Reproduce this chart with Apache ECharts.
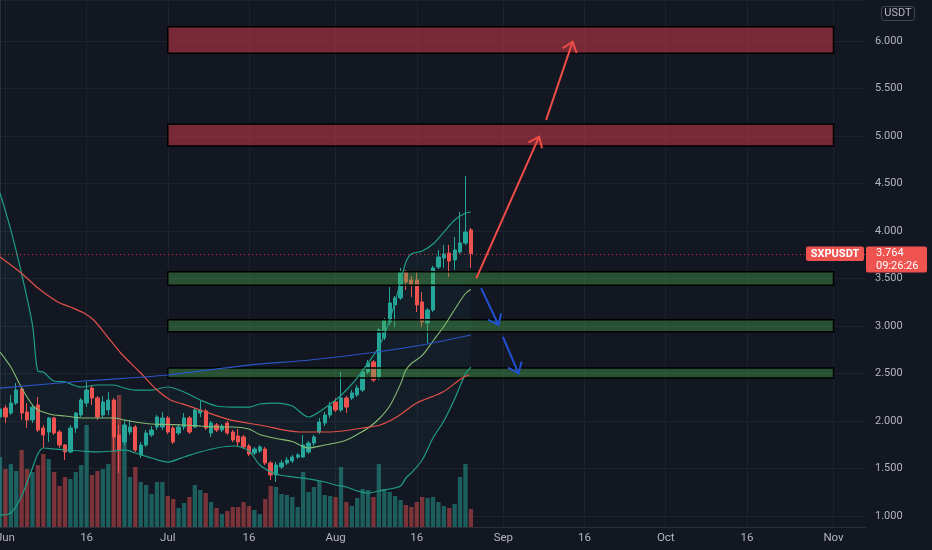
<!DOCTYPE html>
<html><head><meta charset="utf-8">
<script src="https://cdn.jsdelivr.net/npm/echarts@6/dist/echarts.min.js"></script>
<style>html,body{margin:0;padding:0;background:#131722;}#c{width:932px;height:550px;}</style>
</head><body><div id="c"></div>
<script>
// ---------- data ----------
const startDate = [2021, 4, 31];      // 2021-05-31
const dayCount = 161;                 // through 2021-11-07
const monthNames = ['Jan','Feb','Mar','Apr','May','Jun','Jul','Aug','Sep','Oct','Nov','Dec'];
const symbolName = 'SXPUSDT';
const quoteCurrency = 'USDT';
const lastPrice = 3.764;
const countdown = '09:26:26';

// [open, close, low, high]
const candles = [
[2.042,2.126,2.011,2.168],[2.137,2.042,1.979,2.168],[2.084,2.189,2.063,2.274],[2.189,2.326,2.168,2.400],
[2.337,2.084,2.011,2.347],[2.095,2.011,1.926,2.189],[2.011,2.147,1.979,2.168],[2.168,1.905,1.884,2.253],
[1.926,1.853,1.716,1.958],[1.884,2.032,1.779,2.042],[2.032,1.874,1.853,2.042],[1.884,1.747,1.716,1.905],
[1.747,1.674,1.589,1.758],[1.674,1.926,1.663,1.958],[1.926,2.084,1.874,2.095],[2.063,2.221,2.042,2.242],
[2.189,2.326,2.147,2.411],[2.347,2.242,2.168,2.379],[2.242,2.042,2.011,2.263],[2.063,2.200,2.032,2.263],
[2.116,2.221,2.063,2.305],[2.221,1.832,1.674,2.242],[1.853,1.695,1.453,1.958],[1.779,1.958,1.747,2.011],
[1.884,1.937,1.853,2.011],[1.937,1.695,1.674,1.958],[1.642,1.747,1.611,1.779],[1.747,1.874,1.726,1.905],
[1.853,1.905,1.832,1.947],[1.937,2.042,1.905,2.063],[1.937,2.032,1.905,2.095],[2.032,1.884,1.863,2.053],
[1.926,1.779,1.758,1.947],[1.874,1.937,1.853,1.968],[1.937,2.032,1.905,2.084],[2.032,1.884,1.863,2.053],
[1.937,2.116,1.926,2.137],[2.084,2.116,2.042,2.211],[2.105,1.926,1.905,2.126],[1.874,1.979,1.832,2.000],
[1.958,1.905,1.884,1.979],[1.905,1.947,1.884,1.968],[1.979,1.874,1.853,2.000],[1.884,1.800,1.779,1.905],
[1.842,1.779,1.737,1.916],[1.832,1.726,1.705,1.853],[1.737,1.653,1.632,1.758],[1.663,1.705,1.642,1.726],
[1.684,1.726,1.663,1.747],[1.705,1.558,1.537,1.726],[1.558,1.432,1.379,1.579],[1.432,1.537,1.358,1.568],
[1.516,1.558,1.495,1.589],[1.558,1.589,1.537,1.621],[1.579,1.621,1.558,1.642],[1.621,1.642,1.600,1.663],
[1.621,1.747,1.611,1.853],[1.674,1.768,1.653,1.789],[1.768,1.832,1.737,1.853],[1.884,1.989,1.863,2.032],
[1.979,2.063,1.947,2.095],[2.063,2.158,2.032,2.200],[2.200,2.116,2.095,2.242],[2.116,2.242,2.095,2.516],
[2.242,2.147,2.084,2.263],[2.242,2.295,2.221,2.326],[2.274,2.347,2.253,2.379],[2.326,2.516,2.305,2.558],
[2.516,2.611,2.495,2.642],[2.621,2.432,2.411,2.642],[2.453,2.958,2.432,2.979],[2.874,3.063,2.853,3.084],
[3.042,3.242,3.011,3.411],[3.221,3.295,2.989,3.316],[3.295,3.568,3.274,3.611],[3.568,3.463,3.379,3.589],
[3.484,3.432,3.305,3.526],[3.484,3.221,3.147,3.568],[3.253,3.042,2.989,3.358],[3.032,3.168,2.821,3.189],
[3.168,3.611,3.147,3.632],[3.621,3.726,3.600,3.800],[3.716,3.758,3.611,3.853],[3.768,3.684,3.516,3.853],
[3.695,3.800,3.589,3.937],[3.779,3.874,3.758,4.200],[3.874,3.989,3.853,4.579],[4.011,3.764,3.611,4.032]
];

const volumes = [70,58,63,56,77,58,55,62,73,68,55,41,50,48,55,62,102,52,56,58,
63,127,132,87,50,60,45,42,33,45,45,31,28,19,24,30,42,37,34,25,
19,13,16,20,20,25,21,17,13,28,41,40,33,32,30,20,55,35,40,46,
32,31,30,60,25,21,29,38,37,30,63,38,35,31,27,22,20,25,30,29,
30,25,21,19,23,50,63,18];

const bbDays  = [0,2,4,6,7,8,10,12,15,18,21,23,25,28,31,34,37,40,43,46,48,51,54,57,60,62,64,66,68,70,72,74,75,76,78,80,82,84,86,87];
const bbUpper = [4.400,4.011,3.547,3.011,2.526,2.516,2.421,2.411,2.358,2.379,2.379,2.347,2.326,2.326,2.358,2.305,2.221,2.158,2.147,2.147,
                 2.179,2.189,2.158,2.042,2.137,2.221,2.326,2.453,2.611,2.779,3.063,3.463,3.674,3.758,3.789,3.863,3.989,4.116,4.189,4.200];
const bbLower = [1.011,1.032,1.211,1.505,1.653,1.716,1.705,1.695,1.684,1.674,1.684,1.695,1.663,1.611,1.568,1.621,1.674,1.716,1.737,1.684,
                 1.537,1.442,1.411,1.390,1.358,1.326,1.305,1.263,1.242,1.263,1.284,1.316,1.400,1.453,1.589,1.821,2.000,2.232,2.495,2.568];
const bbBasis = [2.726,2.568,2.347,2.168,2.116,2.095,2.063,2.053,2.032,2.032,2.032,2.011,1.989,1.968,1.963,1.958,1.947,1.937,1.937,1.916,
                 1.858,1.816,1.784,1.716,1.747,1.768,1.800,1.858,1.926,2.021,2.158,2.389,2.537,2.605,2.690,2.842,2.995,3.174,3.342,3.384];

const maRedDays = [0,3.9,7,10.7,13,15.5,17.3,19.9,22.3,26,29,31.5,33.7,37,42.5,48,55.4,61,67,70.2,73.3,77,81.8,85.4,86.7];
const maRed     = [3.726,3.558,3.400,3.253,3.200,3.137,3.063,2.884,2.716,2.505,2.326,2.221,2.180,2.116,2.011,1.958,1.884,1.884,1.926,1.958,2.042,2.189,2.305,2.453,2.484];

const maBlueDays = [0,15.5,31,46,57.3,69.6,78,87];
const maBlue     = [2.347,2.421,2.484,2.589,2.642,2.726,2.800,2.905];

// zones: [fromDay, toDay, lowPrice, highPrice, kind]
const zones = [
  [31,154,5.870,6.150,'red'],
  [31,154,4.895,5.125,'red'],
  [31,154,3.430,3.570,'green'],
  [31,154,2.940,3.065,'green'],
  [31,154,2.453,2.558,'green']
];
// arrows: [fromDay, fromPrice, toDay, toPrice]
const arrowsRed  = [[88.0,3.502,99.6,4.993],[100.9,5.168,105.8,5.993]];
const arrowsBlue = [[88.9,3.397,92.1,3.011],[92.9,2.887,95.8,2.502]];

// ---------- build ----------
const categories = [];
for (let i = 0; i < dayCount; i++) {
  const d = new Date(Date.UTC(startDate[0], startDate[1], startDate[2] + i));
  categories.push(d.toISOString().slice(0,10));
}
const UP = '#26a69a', DOWN = '#ef5350';
const volData = volumes.map((v,i) => ({
  value: v,
  itemStyle: {color: candles[i][1] >= candles[i][0] ? 'rgba(38,166,154,0.5)' : 'rgba(239,83,80,0.47)'}
}));
const pairs = (xs, ys) => xs.map((x,i) => [x, ys[i]]);
const showTick = (idx, val) => { const d = +val.slice(8); return d === 1 || d === 16; };
const FONT = 'Roboto, "Noto Sans", sans-serif';

function arrowRenderer(color) {
  return function (params, api) {
    const p0 = api.coord([api.value(0), api.value(1)]);
    const p1 = api.coord([api.value(2), api.value(3)]);
    let dx = p0[0]-p1[0], dy = p0[1]-p1[1];
    const L = Math.hypot(dx, dy); dx /= L; dy /= L;
    const a = 38*Math.PI/180, len = 12;
    const rot = t => [p1[0] + len*(dx*Math.cos(t) - dy*Math.sin(t)), p1[1] + len*(dx*Math.sin(t) + dy*Math.cos(t))];
    return {type:'group', children:[
      {type:'line', shape:{x1:p0[0],y1:p0[1],x2:p1[0],y2:p1[1]}, style:{stroke:color, lineWidth:2}},
      {type:'polyline', shape:{points:[rot(a), p1, rot(-a)]}, style:{stroke:color, lineWidth:2, fill:'none'}}
    ]};
  };
}

const chart = echarts.init(document.getElementById('c'), null, {renderer:'canvas'});
chart.setOption({
  backgroundColor: '#131722',
  animation: false,
  grid: {left: 0, right: 66, top: 0, bottom: 23, containLabel:false, outerBoundsMode:'none'},
  xAxis: [
    {type:'category', data: categories, boundaryGap:false,
     axisLine:{show:true, lineStyle:{color:'#2a2e39'}}, axisTick:{show:false},
     axisLabel:{interval: showTick, color:'#b2b5be', fontSize:11.5, fontFamily:FONT, margin:5, hideOverlap:false,
       formatter: v => { const d = +v.slice(8); return d === 1 ? monthNames[+v.slice(5,7)-1] : String(d); }},
     splitLine:{show:true, interval: showTick, lineStyle:{color:'#1e222d', width:1}}},
    {type:'value', min:0, max:dayCount-1, show:false}
  ],
  yAxis: [
    {type:'value', position:'right', min:0.8842, max:6.4316, splitNumber:11,
     axisLine:{show:true, lineStyle:{color:'#2a2e39'}}, axisTick:{show:false},
     axisLabel:{color:'#b2b5be', fontSize:11, fontFamily:FONT, margin:9, showMinLabel:false, showMaxLabel:false,
       formatter: v => (Math.abs(v*2 - Math.round(v*2)) < 1e-6 && v >= 1 && v <= 6) ? v.toFixed(3) : ''},
     splitLine:{show:true, lineStyle:{color:'#1e222d', width:1}}},
    {type:'value', min:0, max:527, show:false}
  ],
  series: [
    {name:'Volume', type:'bar', xAxisIndex:0, yAxisIndex:1, data: volData, barWidth:4.3, z:1, silent:true},
    {name:'bbFill', type:'custom', xAxisIndex:1, yAxisIndex:0, data:[[0,0]], z:1, silent:true, clip:true,
     renderItem: (params, api) => {
       const pts = [];
       for (let i = 0; i < bbDays.length; i++) pts.push(api.coord([bbDays[i], bbUpper[i]]));
       for (let i = bbDays.length-1; i >= 0; i--) pts.push(api.coord([bbDays[i], bbLower[i]]));
       return {type:'polygon', shape:{points:pts}, style:{fill:'rgba(34,171,148,0.05)', stroke:'none'}};
     }},
    {name:'SXPUSDT', type:'candlestick', xAxisIndex:0, yAxisIndex:0, data: candles, barWidth:3.8, z:2,
     itemStyle:{color:UP, color0:DOWN, borderColor:UP, borderColor0:DOWN, borderWidth:1},
     markLine:{silent:true, symbol:['none','none'], label:{show:false},
       lineStyle:{color:'#f23645', type:[1,3], width:1, opacity:0.9},
       data:[{yAxis:lastPrice}]}},
    {name:'bbUpper', type:'line', xAxisIndex:1, yAxisIndex:0, data: pairs(bbDays, bbUpper), symbol:'none', smooth:0.3,
     lineStyle:{color:'#1f9d86', width:1.2}, z:4},
    {name:'bbLower', type:'line', xAxisIndex:1, yAxisIndex:0, data: pairs(bbDays, bbLower), symbol:'none', smooth:0.3,
     lineStyle:{color:'#1f9d86', width:1.2}, z:4},
    {name:'bbBasis', type:'line', xAxisIndex:1, yAxisIndex:0, data: pairs(bbDays, bbBasis), symbol:'none', smooth:0.3,
     lineStyle:{color:'#86bb74', width:1.1}, z:4},
    {name:'MA red', type:'line', xAxisIndex:1, yAxisIndex:0, data: pairs(maRedDays, maRed), symbol:'none', smooth:0.3,
     lineStyle:{color:'#e3504a', width:1.2}, z:4},
    {name:'MA blue', type:'line', xAxisIndex:1, yAxisIndex:0, data: pairs(maBlueDays, maBlue), symbol:'none', smooth:0.3,
     lineStyle:{color:'#2b55c6', width:1.2}, z:4},
    {name:'zones', type:'custom', xAxisIndex:1, yAxisIndex:0, data: zones, z:3, silent:true,
     renderItem: (params, api) => {
       const a = api.coord([api.value(0), api.value(3)]);
       const b = api.coord([api.value(1), api.value(2)]);
       const kind = zones[params.dataIndex][4];
       return {type:'rect', shape:{x:a[0], y:a[1], width:b[0]-a[0], height:b[1]-a[1]},
         style:{fill: kind === 'red' ? 'rgba(230,60,75,0.48)' : 'rgba(76,175,80,0.38)', stroke:'#000', lineWidth:1.5}};
     }},
    {name:'arrowsRed', type:'custom', xAxisIndex:1, yAxisIndex:0, data: arrowsRed, z:5, silent:true,
     renderItem: arrowRenderer('#f04d48')},
    {name:'arrowsBlue', type:'custom', xAxisIndex:1, yAxisIndex:0, data: arrowsBlue, z:5, silent:true,
     renderItem: arrowRenderer('#2050d0')}
  ]
});

const py = chart.convertToPixel({yAxisIndex:0}, lastPrice);
const gridRight = 932 - 66;
chart.setOption({graphic: [
  {type:'rect', z:100, shape:{x:gridRight-60, y:py-7, width:58, height:14.5, r:2}, style:{fill:'#ef5350'}},
  {type:'text', z:101, x:gridRight-31, y:py+0.5, style:{text:symbolName, fill:'#ffffff', font:'bold 11px '+FONT, align:'center', verticalAlign:'middle'}},
  {type:'rect', z:100, shape:{x:gridRight, y:py-7, width:61, height:26, r:2}, style:{fill:'#ef5350'}},
  {type:'text', z:101, x:gridRight+10, y:py, style:{text:lastPrice.toFixed(3), fill:'#ffffff', font:'11px '+FONT, align:'left', verticalAlign:'middle'}},
  {type:'text', z:101, x:gridRight+10, y:py+12.5, style:{text:countdown, fill:'#ffffff', font:'11px '+FONT, align:'left', verticalAlign:'middle'}},
  {type:'rect', z:100, shape:{x:881.5, y:6.5, width:33, height:14, r:3}, style:{fill:'rgba(0,0,0,0)', stroke:'#434651', lineWidth:1}},
  {type:'text', z:101, x:898, y:13.5, style:{text:quoteCurrency, fill:'#b2b5be', font:'11px '+FONT, align:'center', verticalAlign:'middle'}}
]});
</script>
</body></html>
